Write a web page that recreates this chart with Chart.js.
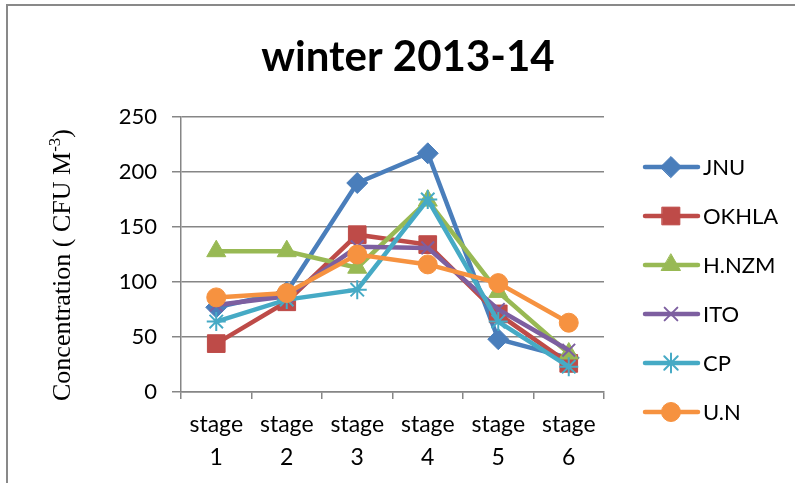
<!DOCTYPE html>
<html>
<head>
<meta charset="utf-8">
<script src="https://cdn.jsdelivr.net/npm/chart.js@4/dist/chart.umd.min.js"></script>
<style>
  body { margin: 0; background: #fff; }
  .wrap { position: relative; width: 795px; height: 483px; overflow: hidden; }
  .frame { position: absolute; left: 6px; top: 4px; width: 800px; height: 490px;
           border-left: 2px solid #898989; border-top: 2px solid #898989; }
  canvas { position: absolute; left: 0; top: 0; }
</style>
</head>
<body>
<div class="wrap">
  <div class="frame"></div>
  <canvas id="chart" width="795" height="483"></canvas>
</div>
<script>
const title    = 'winter 2013-14'
const stages   = [['stage', '1'], ['stage', '2'], ['stage', '3'], ['stage', '4'], ['stage', '5'], ['stage', '6']]
const yTicks   = [0, 50, 100, 150, 200, 250]

const jnu   = [77, 91, 190, 217, 48, 31]
const okhla = [44, 82, 143, 134, 71, 26]
const hnzm  = [128, 128, 113, 174, 91, 35]
const ito   = [79, 87, 132, 131, 75, 38]
const cp    = [64, 84, 93, 175, 64, 23]
const un    = [86, 90, 125, 116, 99, 63]

const seriesNames  = ['JNU', 'OKHLA', 'H.NZM', 'ITO', 'CP', 'U.N']
const seriesData   = [jnu, okhla, hnzm, ito, cp, un]
const seriesColors = ['#4A7EBB', '#BE4B48', '#98B954', '#7D5FA0', '#46AAC5', '#F69240']
const markers      = ['rectRot', 'rect', 'triangle', 'crossRot', 'star', 'circle']
const markerSizes  = [10.5, 12.5, 11, 9, 9.5, 9.5]

const FONT  = 'Lato, "Open Sans", sans-serif'
const SERIF = '"Liberation Serif", "Times New Roman", serif'

let datasets = seriesNames.map((name, i) => ({
    label: name,
    data: seriesData[i],
    borderColor: seriesColors[i],
    backgroundColor: seriesColors[i],
    borderWidth: 4.5,
    pointStyle: markers[i],
    pointRadius: markerSizes[i],
    pointBorderWidth: (markers[i] == 'crossRot' || markers[i] == 'star') ? 2 : 1,
    pointBorderColor: seriesColors[i],
    pointBackgroundColor: seriesColors[i],
    tension: 0,
    order: seriesNames.length - i
}))

// title, rotated y title with superscript, and the legend on the right
const decorations = {
    id: 'decorations',
    afterDraw(chart) {
        let ctx = chart.ctx
        ctx.save()

        ctx.fillStyle = '#000'
        ctx.font = 'bold 42px ' + FONT
        ctx.textAlign = 'center'
        ctx.textBaseline = 'middle'
        ctx.fillText(title, 408, 57)

        // y axis title
        ctx.save()
        ctx.translate(62, 265)
        ctx.rotate(-Math.PI / 2)
        let main = 'Concentration ( CFU M'
        let sup  = '-3'
        let tail = ')'
        ctx.font = '26px ' + SERIF
        let wMain = ctx.measureText(main).width
        let wTail = ctx.measureText(tail).width
        ctx.font = '17px ' + SERIF
        let wSup = ctx.measureText(sup).width
        let x = -(wMain + wSup + wTail) / 2
        ctx.textAlign = 'left'
        ctx.textBaseline = 'alphabetic'
        ctx.font = '26px ' + SERIF
        ctx.fillText(main, x, 8)
        ctx.font = '17px ' + SERIF
        ctx.fillText(sup, x + wMain, -2)
        ctx.font = '26px ' + SERIF
        ctx.fillText(tail, x + wMain + wSup, 8)
        ctx.restore()

        // legend
        chart.data.datasets.forEach((ds, i) => {
            let y = 167 + i * 49
            ctx.strokeStyle = ds.borderColor
            ctx.lineWidth = 4.5
            ctx.lineCap = 'round'
            ctx.beginPath()
            ctx.moveTo(645, y)
            ctx.lineTo(698, y)
            ctx.stroke()
            ctx.fillStyle = ds.pointBackgroundColor
            ctx.strokeStyle = ds.pointBorderColor
            ctx.lineWidth = ds.pointBorderWidth
            Chart.helpers.drawPoint(ctx, {
                pointStyle: ds.pointStyle,
                radius: ds.pointRadius,
                rotation: 0,
                borderWidth: ds.pointBorderWidth
            }, 671, y)
            ctx.fillStyle = '#000'
            ctx.font = '22px ' + FONT
            ctx.textAlign = 'left'
            ctx.textBaseline = 'middle'
            ctx.fillText(ds.label, 703, y + 1)
        })

        ctx.restore()
    }
}

new Chart(document.getElementById('chart'), {
    type: 'line',
    data: { labels: stages, datasets: datasets },
    options: {
        responsive: false,
        animation: false,
        devicePixelRatio: 1,
        layout: { padding: { top: 117, right: 191, left: 0, bottom: 0 } },
        plugins: {
            legend: { display: false },
            title: { display: false },
            tooltip: { enabled: false }
        },
        scales: {
            x: {
                type: 'category',
                offset: true,
                grid: {
                    offset: true,
                    drawOnChartArea: false,
                    drawTicks: true,
                    tickLength: 7,
                    color: '#868686',
                    lineWidth: 1.5
                },
                border: { display: true, color: '#868686', width: 1.5 },
                ticks: {
                    color: '#000',
                    font: { family: FONT, size: 23, lineHeight: 1.45 },
                    padding: 9,
                    maxRotation: 0,
                    autoSkip: false
                },
                afterFit(scale) { scale.height = 91 }
            },
            y: {
                min: yTicks[0],
                max: yTicks[yTicks.length - 1],
                ticks: {
                    stepSize: 50,
                    color: '#000',
                    font: { family: FONT, size: 22 },
                    padding: 15
                },
                grid: {
                    color: '#868686',
                    lineWidth: 1.5,
                    drawTicks: true,
                    tickLength: 9
                },
                border: { display: true, color: '#868686', width: 1.5 },
                afterFit(scale) { scale.width = 181 }
            }
        }
    },
    plugins: [decorations]
})
</script>
</body>
</html>
